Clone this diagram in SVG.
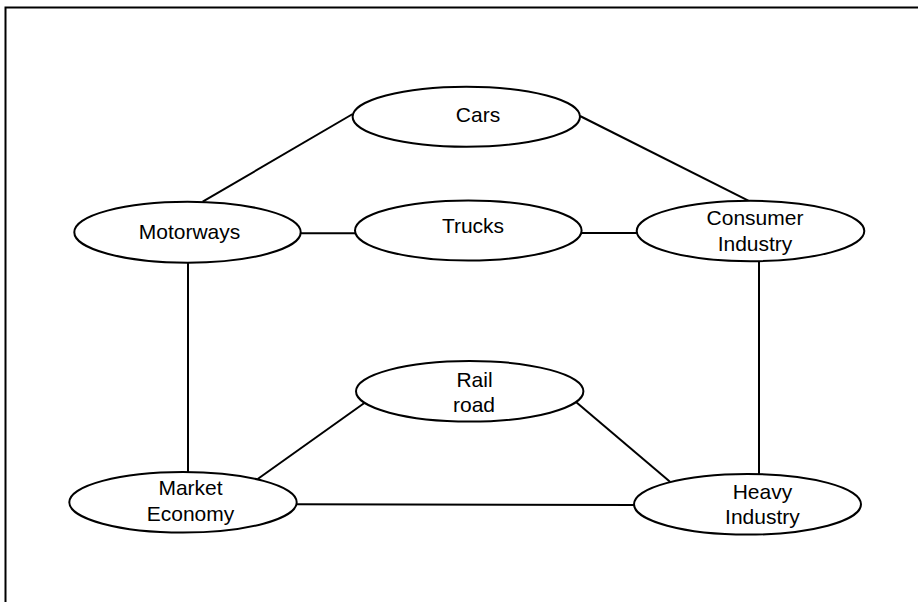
<svg xmlns="http://www.w3.org/2000/svg" width="918" height="602" viewBox="0 0 918 602">
<style>
.n{fill:#fff;stroke:#000;stroke-width:2}
.t{font-family:"Liberation Sans",Arial,sans-serif;font-size:21px;fill:#000;text-anchor:middle}
.c line{stroke:#000;stroke-width:2}
</style>
<rect x="0" y="0" width="918" height="602" fill="#fff"/>
<rect x="5.5" y="7.5" width="1000" height="700" fill="none" stroke="#000" stroke-width="2"/>
<g id="connectors" class="c">
<line x1="352.7" y1="114" x2="202.7" y2="201.7"/>
<line x1="580" y1="116" x2="748.3" y2="200.7"/>
<line x1="300.7" y1="233.3" x2="355" y2="233.3"/>
<line x1="581.7" y1="233" x2="636.7" y2="233"/>
<line x1="188" y1="262.7" x2="188" y2="472"/>
<line x1="759" y1="261" x2="759" y2="474"/>
<line x1="257.7" y1="479" x2="364" y2="403.3"/>
<line x1="575.7" y1="401.7" x2="670" y2="481.7"/>
<line x1="296.7" y1="504.3" x2="634" y2="505"/>
</g>
<g id="cars"><ellipse class="n" cx="466.3" cy="116.7" rx="113.7" ry="30"/><text class="t" x="478" y="122.3">Cars</text></g>
<g id="motorways"><ellipse class="n" cx="187.5" cy="232.2" rx="113.2" ry="30.5"/><text class="t" x="189.5" y="239.3">Motorways</text></g>
<g id="trucks"><ellipse class="n" cx="468.3" cy="230.5" rx="113.3" ry="30"/><text class="t" x="473" y="233.3">Trucks</text></g>
<g id="consumer-industry"><ellipse class="n" cx="750.5" cy="231" rx="113.8" ry="30.2"/><text class="t" x="755" y="225">Consumer</text><text class="t" x="755" y="251">Industry</text></g>
<g id="rail-road"><ellipse class="n" cx="469.7" cy="391.3" rx="113.7" ry="30.3"/><text class="t" x="474.5" y="386.7">Rail</text><text class="t" x="474" y="411.7">road</text></g>
<g id="market-economy"><ellipse class="n" cx="183" cy="502.3" rx="113.7" ry="30.3"/><text class="t" x="190.5" y="495">Market</text><text class="t" x="190.5" y="520.5">Economy</text></g>
<g id="heavy-industry"><ellipse class="n" cx="747.5" cy="504.3" rx="113.5" ry="30.3"/><text class="t" x="762.4" y="499.3">Heavy</text><text class="t" x="762.4" y="524">Industry</text></g>
</svg>
